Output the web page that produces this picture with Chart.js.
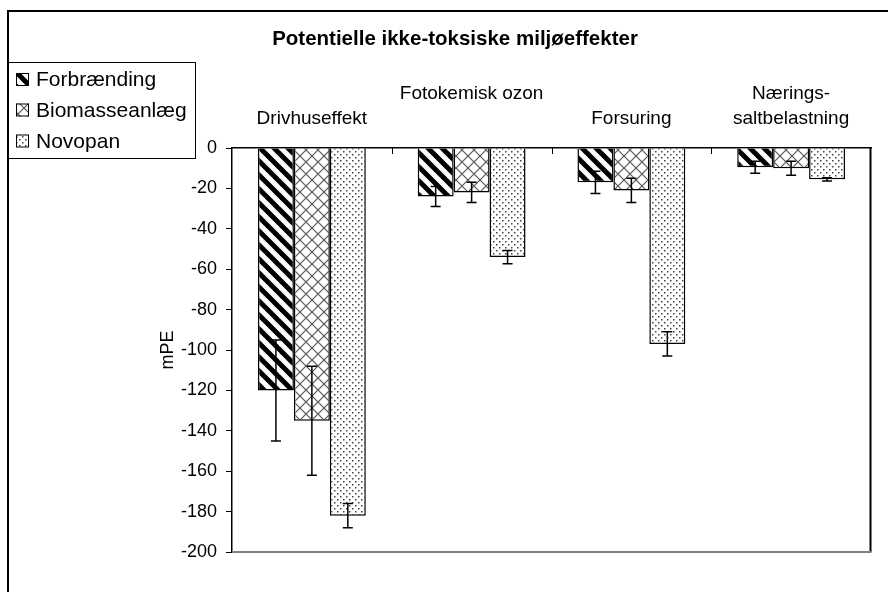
<!DOCTYPE html>
<html lang="da">
<head>
<meta charset="utf-8">
<title>Potentielle ikke-toksiske miljøeffekter</title>
<script src="https://cdn.jsdelivr.net/npm/chart.js@4.4.1/dist/chart.umd.min.js"></script>
<style>
  html, body { margin: 0; padding: 0; background: #fff; }
  canvas { display: block; }
</style>
</head>
<body>
<canvas id="graf" width="888" height="592"></canvas>
<script>
// Kategorier og værdier (mPE)
const kategorier = ['Drivhuseffekt', ['Fotokemisk ozon', ''], 'Forsuring', ['Nærings-', 'saltbelastning']];
const serier = ['Forbrænding', 'Biomasseanlæg', 'Novopan'];
const forbraending = [-120, -24, -17, -9.5];
const biomasseanlaeg = [-135, -22, -21, -10];
const novopan = [-182, -54, -97, -15.5];

// Usikkerhed (+/-) for hver søjle
const fejlForbraending = [25, 5, 5.5, 3];
const fejlBiomasse = [27, 5, 6, 3.5];
const fejlNovopan = [6, 3.3, 6, 0.8];

// Y-aksens tal
const yTicks = [0, -20, -40, -60, -80, -100, -120, -140, -160, -180, -200];

Chart.defaults.font.family = '"Liberation Sans", Arial, sans-serif';
Chart.defaults.color = '#000';

const lærred = document.getElementById('graf');
const ctxHoved = lærred.getContext('2d');

// Laver et mønster til søjlerne
function lavMoenster(str, tegn) {
    const c = document.createElement('canvas');
    c.width = str;
    c.height = str;
    const ctx = c.getContext('2d');
    ctx.fillStyle = '#fff';
    ctx.fillRect(0, 0, str, str);
    tegn(ctx, str);
    return ctxHoved.createPattern(c, 'repeat');
}

const striber = lavMoenster(14, (ctx, s) => {
    ctx.strokeStyle = '#000';
    ctx.lineWidth = 5;
    for (const d of [-s, 0, s]) {
        ctx.beginPath();
        ctx.moveTo(d - 2, -2);
        ctx.lineTo(d + s + 2, s + 2);
        ctx.stroke();
    }
});

const krydsskravering = lavMoenster(12, (ctx, s) => {
    ctx.strokeStyle = '#555';
    ctx.lineWidth = 1.2;
    for (const d of [-s, 0, s]) {
        ctx.beginPath();
        ctx.moveTo(d - 2, -2);
        ctx.lineTo(d + s + 2, s + 2);
        ctx.moveTo(d - 2, s + 2);
        ctx.lineTo(d + s + 2, -2);
        ctx.stroke();
    }
});

const prikker = lavMoenster(6, (ctx) => {
    ctx.fillStyle = '#444';
    ctx.fillRect(1, 1, 1.5, 1.5);
    ctx.fillRect(4, 4, 1.5, 1.5);
});

const moenstre = [striber, krydsskravering, prikker];
const fejl = [fejlForbraending, fejlBiomasse, fejlNovopan];

// Ekstra tegning: ramme, fejlstreger, forklaring
const pynt = {
    id: 'pynt',
    beforeDraw(chart) {
        const ctx = chart.ctx;
        ctx.save();
        ctx.fillStyle = '#fff';
        ctx.fillRect(0, 0, chart.width, chart.height);
        ctx.restore();
    },
    afterDatasetsDraw(chart) {
        const ctx = chart.ctx;
        const x = chart.scales.x;
        const y = chart.scales.y;
        ctx.save();

        // små streger mellem kategorierne
        ctx.strokeStyle = '#000';
        ctx.lineWidth = 1;
        for (let i = 0; i < kategorier.length - 1; i++) {
            const px = Math.round((x.getPixelForValue(i) + x.getPixelForValue(i + 1)) / 2) + 0.5;
            ctx.beginPath();
            ctx.moveTo(px, y.getPixelForValue(0));
            ctx.lineTo(px, y.getPixelForValue(0) + 6);
            ctx.stroke();
        }

        // fejlstreger
        ctx.lineWidth = 1.5;
        chart.data.datasets.forEach((ds, di) => {
            const meta = chart.getDatasetMeta(di);
            meta.data.forEach((bar, i) => {
                const v = ds.data[i];
                const e = fejl[di][i];
                const y1 = y.getPixelForValue(v + e);
                const y2 = y.getPixelForValue(v - e);
                ctx.beginPath();
                ctx.moveTo(bar.x, y1);
                ctx.lineTo(bar.x, y2);
                ctx.moveTo(bar.x - 5, y1);
                ctx.lineTo(bar.x + 5, y1);
                ctx.moveTo(bar.x - 5, y2);
                ctx.lineTo(bar.x + 5, y2);
                ctx.stroke();
            });
        });
        ctx.restore();
    },
    afterDraw(chart) {
        const ctx = chart.ctx;
        const x = chart.scales.x;
        const y = chart.scales.y;
        ctx.save();

        // plotområdets ramme (højre og bund)
        const h = Math.round(x.right) - 0.5;
        const top = Math.round(y.getPixelForValue(0));
        const bund = Math.round(y.getPixelForValue(-200));
        ctx.lineWidth = 2;
        ctx.strokeStyle = '#000';
        ctx.beginPath();
        ctx.moveTo(h, top);
        ctx.lineTo(h, bund);
        ctx.stroke();
        ctx.strokeStyle = '#808080';
        ctx.beginPath();
        ctx.moveTo(Math.round(x.left), bund);
        ctx.lineTo(h + 1, bund);
        ctx.stroke();

        // forklaring
        const lx = 7, ly = 62, lw = 188, lh = 96;
        ctx.fillStyle = '#fff';
        ctx.fillRect(lx, ly, lw, lh);
        ctx.strokeStyle = '#000';
        ctx.lineWidth = 1;
        ctx.strokeRect(lx + 0.5, ly + 0.5, lw, lh);
        ctx.font = '21px "Liberation Sans", Arial, sans-serif';
        ctx.textBaseline = 'middle';
        const rækker = [79.5, 110, 141];
        serier.forEach((navn, i) => {
            const cy = rækker[i];
            ctx.fillStyle = moenstre[i];
            ctx.fillRect(16, cy - 6.5, 13, 13);
            ctx.strokeStyle = '#000';
            ctx.lineWidth = 1;
            ctx.strokeRect(16.5, cy - 6, 12, 12);
            ctx.fillStyle = '#000';
            ctx.fillText(navn, 36, cy + 1);
        });

        // ydre ramme
        ctx.strokeStyle = '#000';
        ctx.lineWidth = 2;
        ctx.beginPath();
        ctx.moveTo(8, chart.height + 2);
        ctx.lineTo(8, 11);
        ctx.lineTo(chart.width + 2, 11);
        ctx.stroke();
        ctx.restore();
    }
};

new Chart(lærred, {
    type: 'bar',
    data: {
        labels: kategorier,
        datasets: [forbraending, biomasseanlaeg, novopan].map((d, i) => ({
            label: serier[i],
            data: d,
            backgroundColor: moenstre[i],
            borderColor: '#000',
            borderWidth: 1.5,
            categoryPercentage: 0.675,
            barPercentage: 1
        }))
    },
    options: {
        responsive: false,
        animation: false,
        devicePixelRatio: 1,
        layout: { padding: { left: 39, right: 17, top: 0, bottom: 40 } },
        plugins: {
            legend: { display: false },
            tooltip: { enabled: false },
            title: {
                display: true,
                text: 'Potentielle ikke-toksiske miljøeffekter',
                color: '#000',
                font: { size: 20.5, weight: 'bold' },
                padding: { top: 27, bottom: 0 }
            }
        },
        scales: {
            x: {
                position: 'top',
                offset: true,
                grid: { display: false, drawTicks: false },
                border: { display: true, color: '#000', width: 1.5 },
                ticks: {
                    color: '#000',
                    font: { size: 19, lineHeight: 1.3 },
                    padding: 17,
                    maxRotation: 0,
                    autoSkip: false
                },
                afterFit: s => { s.height = 96.4; }
            },
            y: {
                min: -200,
                max: 0,
                afterBuildTicks: s => { s.ticks = yTicks.map(v => ({ value: v })); },
                grid: { display: true, drawOnChartArea: false, drawTicks: true, tickLength: 6, color: '#000' },
                border: { display: true, color: '#000', width: 1.5 },
                ticks: { color: '#000', font: { size: 18 }, padding: 9 },
                title: {
                    display: true,
                    text: 'mPE',
                    color: '#000',
                    font: { size: 18 },
                    padding: { top: 118, bottom: 0 }
                },
                afterFit: s => { s.width = 232 - 39; }
            }
        }
    },
    plugins: [pynt]
});
</script>
</body>
</html>
